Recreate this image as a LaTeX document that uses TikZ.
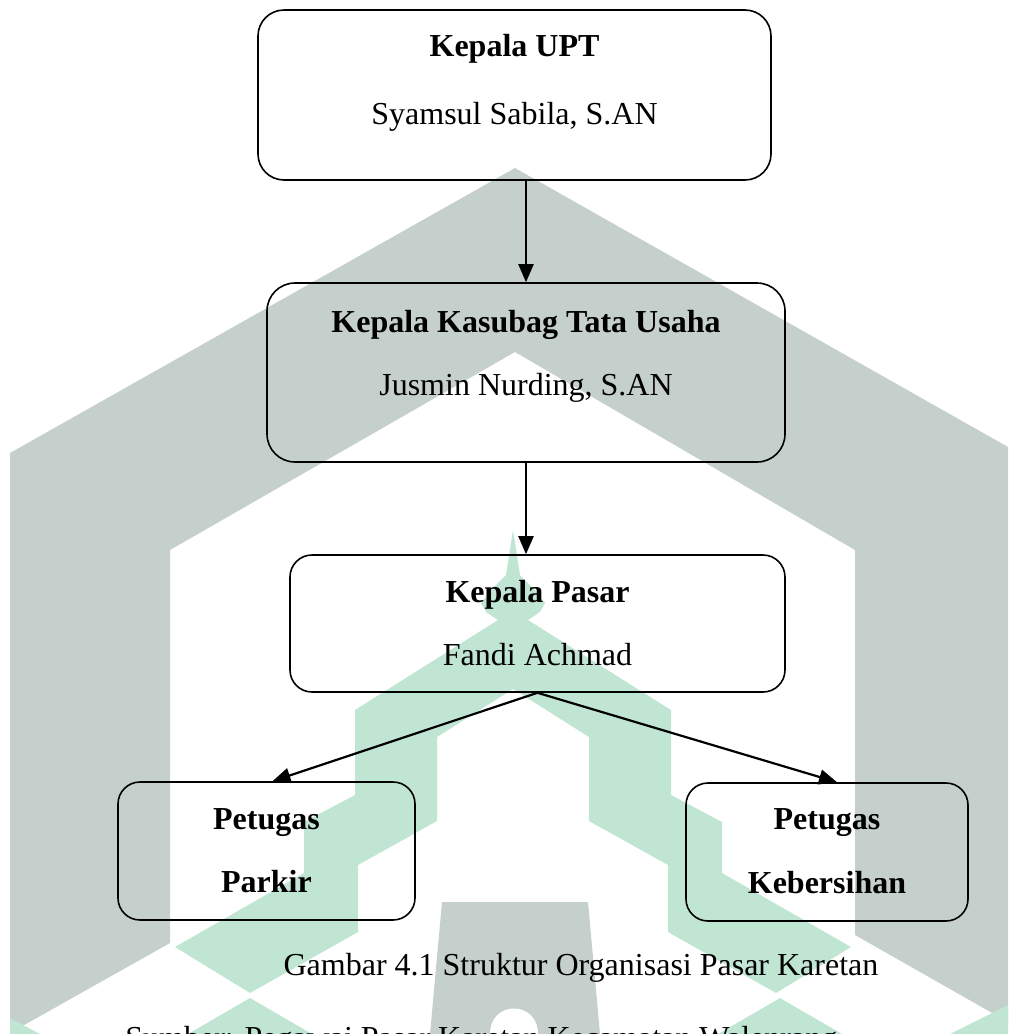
\documentclass[tikz,border=0pt]{standalone}
\usepackage{fontspec}
\setmainfont{Liberation Serif}
\usetikzlibrary{arrows.meta}
\definecolor{wmgray}{RGB}{197,207,203}
\definecolor{wmgreen}{RGB}{192,230,211}
\begin{document}
\begin{tikzpicture}[x=0.5pt, y=-0.5pt, >={Triangle[length=9pt,width=7.5pt]},
		every node/.style={font=\fontsize{16}{19}\selectfont},
		box/.style={draw, rounded corners=11pt, line width=0.8pt, inner sep=0pt},
		arr/.style={->, line width=1.1pt},
		lbl/.style={anchor=base, inner sep=0pt}]
	\useasboundingbox (0,0) rectangle (1008,1034);
	% 1. watermark (gray chevron, green mosque)
	\fill[wmgray] (515,168) -- (1008,447) -- (1008,1022) -- (855,935) -- (855,550) -- (515,352)
		-- (170,550) -- (170,943) -- (10,1033) -- (10,453) -- cycle;
	\fill[wmgray] (442,902) -- (588,902) -- (600,1034) -- (430,1034) -- cycle;
	\fill[white] (490,1034) .. controls (490,1000) and (538,1000) .. (538,1034) -- cycle;
	\fill[wmgreen] (513,530) -- (520,575) -- (535,590) -- (545,603) -- (540,612) -- (528,620)
		-- (671,710) -- (671,795) -- (722,822) -- (722,873) -- (851,947) -- (776,993)
		-- (668,932) -- (668,865) -- (589,821) -- (589,737) -- (513,689)
		-- (437,737) -- (437,821) -- (358,865) -- (358,932) -- (250,993) -- (175,947)
		-- (304,873) -- (304,822) -- (355,795) -- (355,710) -- (498,620) -- (486,612)
		-- (481,603) -- (491,590) -- (506,575) -- cycle;
	\fill[wmgreen] (250,998) -- (312,1034) -- (188,1034) -- cycle;
	\fill[wmgreen] (780,998) -- (842,1034) -- (718,1034) -- cycle;
	\fill[wmgreen] (10,1018) -- (40,1034) -- (10,1034) -- cycle;
	\fill[wmgreen] (1008,1005) -- (950,1034) -- (1008,1034) -- cycle;

	% 2. boxes
	\node[box, rounded corners=13pt, minimum width=256.5pt, minimum height=85pt] (upt) at (514.5,95) {};
	\node[box, rounded corners=14pt, minimum width=259pt, minimum height=89.5pt] (kasubag) at (526,372.5) {};
	\node[box, minimum width=247.5pt, minimum height=68.5pt] (pasar) at (537.5,623.5) {};
	\node[box, minimum width=148.5pt, minimum height=69pt] (parkir) at (266.5,851) {};
	\node[box, minimum width=141pt, minimum height=69pt] (bersih) at (827,852) {};

	% 3. texts
	\node[lbl] (upt-t) at (514.5,56) {\textbf{Kepala UPT}};
	\node[lbl] (upt-n) at (514.5,124) {Syamsul Sabila, S.AN};
	\node[lbl] (kasubag-t) at (526,332) {\textbf{Kepala Kasubag Tata Usaha}};
	\node[lbl] (kasubag-n) at (526,395) {Jusmin Nurding, S.AN};
	\node[lbl] (pasar-t) at (537.5,602) {\textbf{Kepala Pasar}};
	\node[lbl] (pasar-n) at (537.5,665) {Fandi Achmad};
	\node[lbl] (parkir-t) at (266.5,829) {\textbf{Petugas}};
	\node[lbl] (parkir-n) at (266.5,892) {\textbf{Parkir}};
	\node[lbl] (bersih-t) at (827,829) {\textbf{Petugas}};
	\node[lbl] (bersih-n) at (827,893) {\textbf{Kebersihan}};
	\node[lbl] (caption) at (581,975) {Gambar 4.1 Struktur Organisasi Pasar Karetan};
	\node[lbl, anchor=base west] (source) at (125,1048) {Sumber: Pegawai Pasar Karetan Kecamatan Walenrang};

	% 4. connectors
	\draw[arr] (upt.south -| kasubag.north) -- (kasubag.north);
	\draw[arr] (kasubag.south) -- (kasubag.south |- pasar.north);
	\draw[arr] (pasar.south) -- ([xshift=3pt]parkir.north);
	\draw[arr] (pasar.south) -- ([xshift=5pt]bersih.north);
\end{tikzpicture}
\end{document}
